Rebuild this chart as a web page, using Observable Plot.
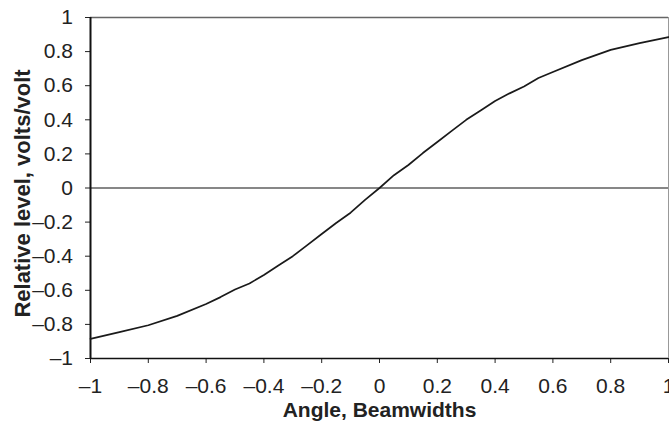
<!DOCTYPE html>
<html>
<head>
<meta charset="utf-8">
<script src="https://cdn.jsdelivr.net/npm/d3@7"></script>
<script src="https://cdn.jsdelivr.net/npm/@observablehq/plot@0.6"></script>
<style>
  html, body { margin: 0; padding: 0; background: #fff; }
</style>
</head>
<body>
<div id="chart"></div>
<script>
const angle = [-1, -0.9, -0.8, -0.7, -0.6, -0.55, -0.5, -0.45, -0.4, -0.35, -0.3, -0.25, -0.2, -0.15, -0.1, -0.05, 0, 0.05, 0.1, 0.15, 0.2, 0.25, 0.3, 0.35, 0.4, 0.45, 0.5, 0.55, 0.6, 0.7, 0.8, 0.9, 1];
const level = [-0.885, -0.845, -0.805, -0.75, -0.68, -0.64, -0.595, -0.56, -0.51, -0.455, -0.40, -0.335, -0.27, -0.205, -0.145, -0.07, 0, 0.075, 0.135, 0.205, 0.27, 0.335, 0.40, 0.455, 0.51, 0.555, 0.595, 0.645, 0.68, 0.75, 0.81, 0.85, 0.885];
const xTicks = [-1, -0.8, -0.6, -0.4, -0.2, 0, 0.2, 0.4, 0.6, 0.8, 1];
const yTicks = [-1, -0.8, -0.6, -0.4, -0.2, 0, 0.2, 0.4, 0.6, 0.8, 1];
const xTitle = "Angle, Beamwidths";
const yTitle = "Relative level, volts/volt";

const data = angle.map((a, i) => ({angle: a, level: level[i]}));
const fmt = d => String(d).replace("-", "\u2013");
const font = "'Liberation Sans', Arial, sans-serif";

const chart = Plot.plot({
  width: 669,
  height: 428,
  marginLeft: 90,
  marginRight: 1,
  marginTop: 17,
  marginBottom: 70,
  style: {fontFamily: font, fontSize: "20px", color: "#222", background: "#fff"},
  x: {domain: [-1, 1], ticks: xTicks, tickFormat: () => "", tickSize: 5, label: null},
  y: {domain: [-1, 1], ticks: yTicks, tickFormat: () => "", tickSize: 5, label: null},
  marks: [
    Plot.ruleY([1], {stroke: "#666", strokeWidth: 1.5}),
    Plot.ruleX([1], {stroke: "#999", strokeWidth: 1}),
    Plot.ruleY([0], {stroke: "#111", strokeWidth: 1.2}),
    Plot.ruleY([-1], {stroke: "#111", strokeWidth: 1.5}),
    Plot.ruleX([-1], {stroke: "#111", strokeWidth: 2}),
    Plot.line(data, {x: "angle", y: "level", stroke: "#1a1a1a", strokeWidth: 1.7}),
    Plot.text(xTicks, {x: d => d, text: fmt, frameAnchor: "bottom", lineAnchor: "top", dy: 20, fontSize: 21, fill: "#222"}),
    Plot.text(yTicks, {y: d => d, text: fmt, frameAnchor: "left", textAnchor: "end", dx: -17.5, fontSize: 21, fill: "#222"}),
    Plot.text([xTitle], {frameAnchor: "bottom", dy: 58, fontWeight: "bold", fontSize: 21, fill: "#222"}),
    Plot.text([yTitle], {frameAnchor: "left", textAnchor: "middle", dx: -68, dy: 5.5, rotate: -90, fontWeight: "bold", fontSize: 22, fill: "#222"})
  ]
});
document.getElementById("chart").appendChild(chart);
</script>
</body>
</html>
